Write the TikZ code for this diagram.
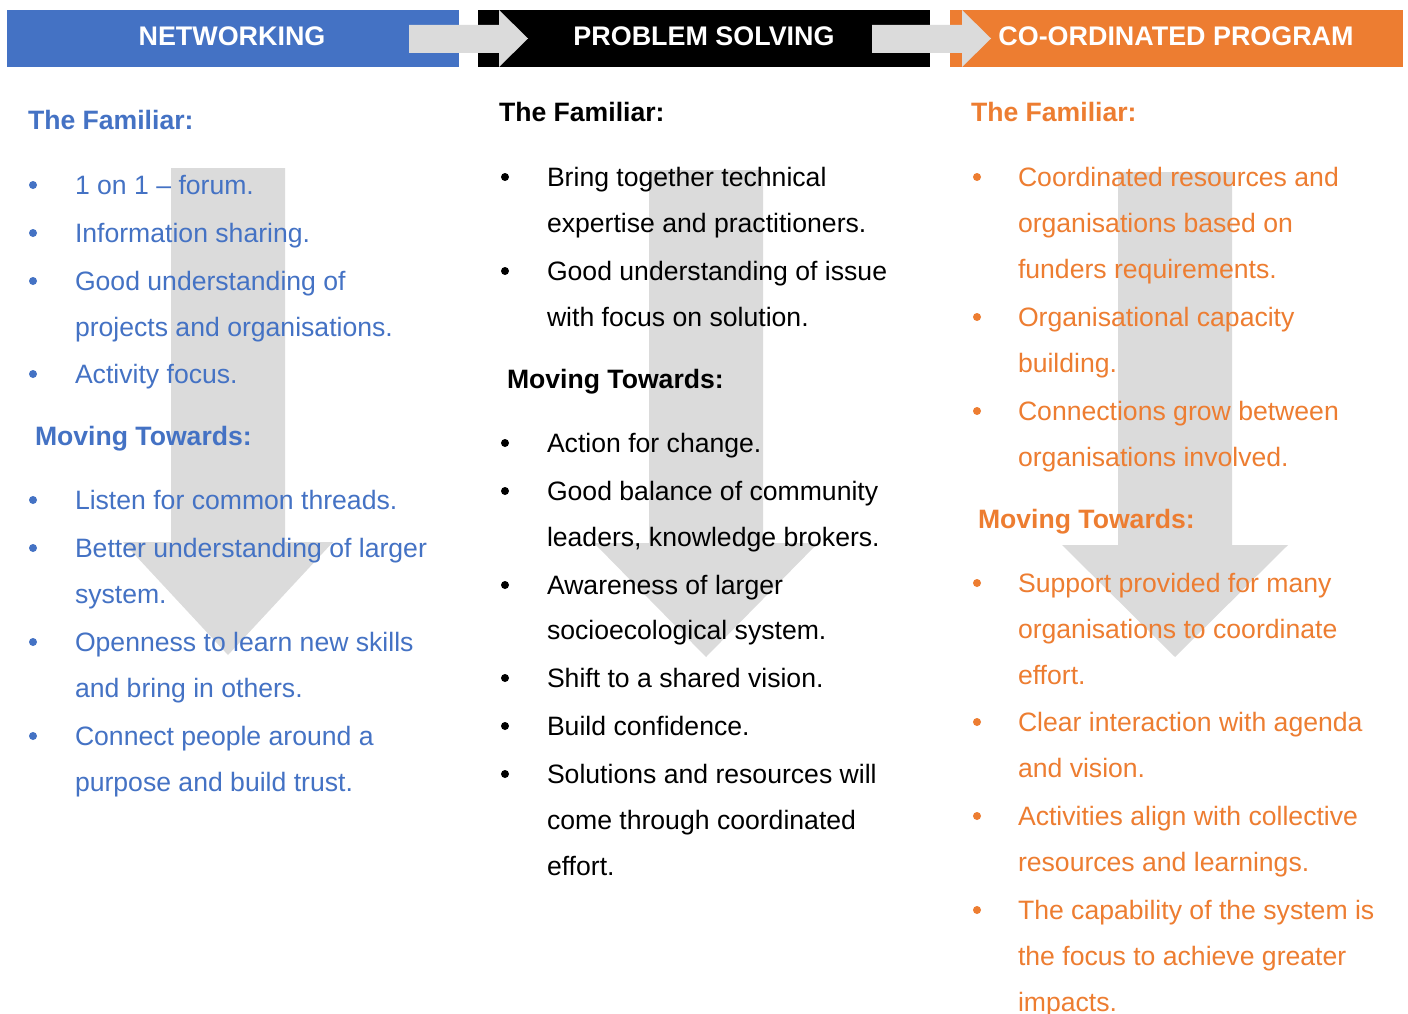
\documentclass[tikz,border=0pt]{standalone}
\usepackage{fontspec}
\setmainfont{Liberation Sans}
\definecolor{nblue}{HTML}{4472C4}
\definecolor{norange}{HTML}{ED7D31}
\definecolor{ngray}{HTML}{DBDBDB}
\begin{document}
\begin{tikzpicture}[x=1pt,y=-1pt,
  every node/.style={inner sep=0pt, outer sep=0pt, font=\fontsize{26.6}{32}\selectfont},
  txt/.style={anchor=base west, yshift=-9pt},
  subhd/.style={txt, font=\fontsize{26.6}{32}\selectfont\bfseries},
  barhd/.style={anchor=base, yshift=-9.5pt, text=white, font=\fontsize{26.9}{32}\selectfont\bfseries},
  dot/.style={circle, fill, minimum size=8pt, inner sep=0pt},
]
\useasboundingbox (0,0) rectangle (1408,1014);
\fill[white] (0,0) rectangle (1408,1014);

% header bars
\fill[nblue]   (7,10)   rectangle (459,67);
\fill[black]   (478,10) rectangle (930,67);
\fill[norange] (950,10) rectangle (1403,67);

% header gray arrows
\fill[ngray] (409,25) -- (499,25) -- (499,10) -- (528,38.5) -- (499,67) -- (499,53) -- (409,53) -- cycle;
\fill[ngray] (872,25) -- (962,25) -- (962,10) -- (991,38.5) -- (962,67) -- (962,53) -- (872,53) -- cycle;

\node[barhd] (h1) at (232,36) {NETWORKING};
\node[barhd] (h2) at (704,36) {PROBLEM SOLVING};
\node[barhd] (h3) at (1176,36) {CO-ORDINATED PROGRAM};

% big vertical arrows
\foreach \cx/\top/\hs/\hw/\ap in {228/168/542/105/655, 706/170/543/112/657, 1175/172/545/113/657}{
  \fill[ngray] (\cx-57,\top) -- (\cx+57,\top) -- (\cx+57,\hs) -- (\cx+\hw,\hs) -- (\cx,\ap)
     -- (\cx-\hw,\hs) -- (\cx-57,\hs) -- cycle;
}

% ---------- left column (blue)
\begin{scope}[text=nblue]
\node[subhd] (lf) at (28,121) {The Familiar:};
\node[subhd] (lm) at (35,436) {Moving Towards:};
\foreach \y/\t [count=\i] in {185/{1 on 1 – forum.}, 233/{Information sharing.}, 281/{Good understanding of},
  327/{projects and organisations.}, 374/{Activity focus.}, 500/{Listen for common threads.},
  548/{Better understanding of larger}, 594/{system.}, 642/{Openness to learn new skills},
  688/{and bring in others.}, 736/{Connect people around a}, 782/{purpose and build trust.}}
  \node[txt] (l\i) at (75,\y) {\t};
\foreach \y [count=\i] in {185,233,281,374,500,548,642,736}
  \node[dot, fill=nblue] (lb\i) at (33,\y) {};
\end{scope}

% ---------- middle column (black)
\begin{scope}[text=black]
\node[subhd] (mf) at (499,113) {The Familiar:};
\node[subhd] (mm) at (507,379) {Moving Towards:};
\foreach \y/\t [count=\i] in {177/{Bring together technical}, 223/{expertise and practitioners.},
  271/{Good understanding of issue}, 317/{with focus on solution.}, 443/{Action for change.},
  491/{Good balance of community}, 537/{leaders, knowledge brokers.}, 585/{Awareness of larger},
  630/{socioecological system.}, 678/{Shift to a shared vision.}, 726/{Build confidence.},
  774/{Solutions and resources will}, 820/{come through coordinated}, 866/{effort.}}
  \node[txt] (m\i) at (547,\y) {\t};
\foreach \y [count=\i] in {177,271,443,491,585,678,726,774}
  \node[dot, fill=black] (mb\i) at (505,\y) {};
\end{scope}

% ---------- right column (orange)
\begin{scope}[text=norange]
\node[subhd] (rf) at (971,113) {The Familiar:};
\node[subhd] (rm) at (978,519) {Moving Towards:};
\foreach \y/\t [count=\i] in {177/{Coordinated resources and}, 223/{organisations based on},
  269/{funders requirements.}, 317/{Organisational capacity}, 363/{building.},
  411/{Connections grow between}, 457/{organisations involved.}, 583/{Support provided for many},
  629/{organisations to coordinate}, 675/{effort.}, 722/{Clear interaction with agenda},
  768/{and vision.}, 816/{Activities align with collective}, 862/{resources and learnings.},
  910/{The capability of the system is}, 956/{the focus to achieve greater}, 1002/{impacts.}}
  \node[txt] (r\i) at (1018,\y) {\t};
\foreach \y [count=\i] in {177,317,411,583,722,816,910}
  \node[dot, fill=norange] (rb\i) at (977,\y) {};
\end{scope}
\end{tikzpicture}
\end{document}
